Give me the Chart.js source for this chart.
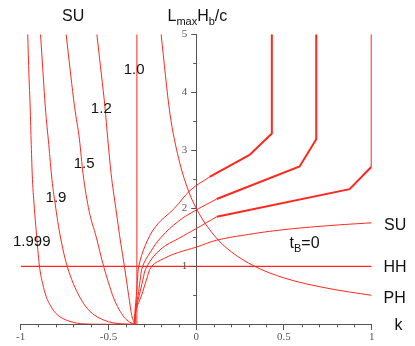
<!DOCTYPE html>
<html>
<head>
<meta charset="utf-8">
<script src="https://cdn.jsdelivr.net/npm/chart.js@4"></script>
<style>
html,body{margin:0;padding:0;background:#fff;}
canvas{display:block;}
</style>
</head>
<body>
<canvas id="c" width="415" height="346"></canvas>
<script>
// ---- data: [k, Lmax*Hb/c] ----
const xTicks = [-1, -0.5, 0, 0.5, 1];
const yTicks = [1, 2, 3, 4, 5];
const curveLabels = ['1.0', '1.2', '1.5', '1.9', '1.999'];

const lineHH = [[-1, 1], [1, 1]];
const line10 = [[-0.338, 0], [-0.338, 5]];
const curve12 = [[-0.566,5],[-0.54,4.3],[-0.52,3.75],[-0.504,3.2],[-0.485,2.6],[-0.458,2.0],[-0.43,1.4],[-0.409,1.0],[-0.385,0.5],[-0.367,0.15],[-0.35,0]];
const curve15 = [[-0.741,5],[-0.715,4.3],[-0.693,3.75],[-0.665,3.18],[-0.645,2.6],[-0.61,1.95],[-0.57,1.51],[-0.532,1.05],[-0.5,0.72],[-0.47,0.45],[-0.44,0.26],[-0.41,0.12],[-0.38,0.04],[-0.35,0]];
const curve19 = [[-0.887,5],[-0.872,4.3],[-0.86,3.75],[-0.84,3.1],[-0.822,2.5],[-0.8,2.0],[-0.785,1.7],[-0.76,1.3],[-0.735,1.0],[-0.7,0.7],[-0.66,0.45],[-0.62,0.27],[-0.58,0.16],[-0.54,0.09],[-0.5,0.045],[-0.45,0.015],[-0.4,0.003],[-0.35,0]];
const curve1999 = [[-0.96,5],[-0.953,4.3],[-0.946,3.75],[-0.94,3.1],[-0.933,2.5],[-0.922,2.0],[-0.912,1.62],[-0.893,1.0],[-0.875,0.7],[-0.855,0.48],[-0.83,0.32],[-0.8,0.19],[-0.76,0.1],[-0.72,0.05],[-0.68,0.02],[-0.64,0.007],[-0.55,0.001],[-0.35,0]];

const thin1 = [[-0.35,0],[-0.348,0.25],[-0.341,0.5],[-0.335,0.75],[-0.327,1.0],[-0.29,1.36],[-0.23,1.69],[-0.124,2.0],[-0.03,2.32],[0.076,2.54]];
const thin2 = [[-0.35,0],[-0.346,0.25],[-0.331,0.5],[-0.32,0.75],[-0.305,1.0],[-0.26,1.25],[-0.2,1.5],[-0.1,1.78],[0.0,1.97],[0.117,2.16]];
const thin3 = [[-0.35,0],[-0.344,0.25],[-0.324,0.5],[-0.305,0.75],[-0.281,1.0],[-0.2,1.3],[-0.1,1.48],[0.0,1.65],[0.117,1.855]];
const curveSU = [[-0.35,0],[-0.342,0.25],[-0.311,0.5],[-0.285,0.75],[-0.253,1.0],[-0.18,1.14],[-0.1,1.24],[0.0,1.33],[0.117,1.45],[0.3,1.55],[0.494,1.63],[0.75,1.7],[1.0,1.75]];

const polyA = [[0.076,2.54],[0.304,2.92],[0.431,3.29],[0.431,5]];
const polyB = [[0.117,2.16],[0.589,2.72],[0.684,3.19],[0.684,5]];
const polyC = [[0.117,1.855],[0.874,2.33],[1.0,2.72],[1.0,5]];

const curvePH = [[-0.2,5],[-0.15,3.64],[-0.1,2.86],[-0.05,2.35],[0,2.0],[0.1,1.54],[0.2,1.25],[0.333,1.0],[0.5,0.8],[0.75,0.62],[1,0.5]];

// ---- styling ----
const RED = 'rgb(255,40,30)';
const AXIS = '#555';
const TICKFONT = '11px "Liberation Serif", "DejaVu Serif", serif';
const toPts = a => a.map(p => ({x: p[0], y: p[1]}));

function ds(arr, width, mode) {
  return {
    data: toPts(arr), showLine: true, pointRadius: 0, borderColor: RED,
    backgroundColor: RED, borderWidth: width, fill: false,
    cubicInterpolationMode: mode === 'mono' ? 'monotone' : 'default',
    tension: mode === 'bez' ? 0.4 : 0,
    borderJoinStyle: 'miter'
  };
}

const datasets = [
  ds(lineHH, 1.2), ds(line10, 1),
  ds(curve12, 1, 'mono'), ds(curve15, 1, 'mono'), ds(curve19, 1, 'mono'), ds(curve1999, 1, 'mono'),
  ds(thin1, 1, 'bez'), ds(thin2, 1, 'bez'), ds(thin3, 1, 'bez'), ds(curveSU, 1, 'bez'),
  ds(polyA, 2), ds(polyB, 2), ds(polyC, 2),
  ds(curvePH, 1, 'mono')
];

const extras = {
  id: 'extras',
  afterDraw(chart) {
    const ctx = chart.ctx, xs = chart.scales.x, ys = chart.scales.y;
    const x0 = xs.getPixelForValue(0), y0 = ys.getPixelForValue(0);
    ctx.save();
    ctx.strokeStyle = AXIS; ctx.lineWidth = 1;
    ctx.beginPath();
    // minor x ticks
    for (let i = -10; i <= 10; i++) {
      if (i % 5 === 0) continue;
      const px = Math.round(xs.getPixelForValue(i / 10)) + 0.5;
      ctx.moveTo(px, y0); ctx.lineTo(px, y0 + 3);
    }
    // y ticks (minor + major)
    for (let j = 1; j <= 10; j++) {
      const py = Math.round(ys.getPixelForValue(j / 2)) + 0.5;
      const len = (j % 2 === 0) ? 5 : 3;
      ctx.moveTo(x0, py); ctx.lineTo(x0 - len, py);
    }
    ctx.stroke();
    // y tick labels
    ctx.fillStyle = AXIS; ctx.font = TICKFONT;
    ctx.textAlign = 'right'; ctx.textBaseline = 'middle';
    yTicks.forEach(v => ctx.fillText(String(v), x0 - 9, ys.getPixelForValue(v)));

    ctx.fillStyle = '#111';
    ctx.textBaseline = 'alphabetic';
    const big = '16px "Liberation Sans", Arial, sans-serif';
    const small = '11px "Liberation Sans", Arial, sans-serif';
    const mid = '15px "Liberation Sans", Arial, sans-serif';
    // top labels
    ctx.font = big; ctx.textAlign = 'left';
    ctx.fillText('SU', 62, 20.7);
    let tx = 167.5;
    const seq = [['L', big, 0], ['max', small, 4.3], ['H', big, 0], ['b', small, 4.3], ['/c', big, 0]];
    for (const [s, f, dy] of seq) {
      ctx.font = f; ctx.fillText(s, tx, 20.7 + dy); tx += ctx.measureText(s).width;
    }
    // curve labels
    ctx.font = mid; ctx.textAlign = 'center';
    const lp = [[134.2, 74], [101.3, 113.3], [84.2, 168.3], [56, 201.7], [31.7, 245.7]];
    curveLabels.forEach((t, i) => ctx.fillText(t, lp[i][0], lp[i][1]));
    // right labels
    ctx.font = big; ctx.textAlign = 'left';
    ctx.fillText('SU', 384, 230);
    ctx.fillText('HH', 383.5, 271.7);
    ctx.fillText('PH', 383.5, 302.7);
    ctx.fillText('k', 394.5, 330);
    // t_B=0
    tx = 289.5;
    const seq2 = [['t', big, 0], ['B', small, 3.5], ['=0', big, 0]];
    for (const [s, f, dy] of seq2) {
      ctx.font = f; ctx.fillText(s, tx, 248.3 + dy); tx += ctx.measureText(s).width;
    }
    ctx.restore();
  }
};

new Chart(document.getElementById('c'), {
  type: 'scatter',
  data: { datasets },
  options: {
    responsive: false, animation: false, devicePixelRatio: 1,
    layout: { padding: { left: 20.7, right: 43.3, top: 34.3, bottom: 21.7 } },
    plugins: { legend: { display: false }, tooltip: { enabled: false } },
    scales: {
      x: {
        type: 'linear', min: -1, max: 1, position: { y: 0 },
        afterBuildTicks: s => { s.ticks = xTicks.map(v => ({ value: v })); },
        ticks: { font: { family: '"Liberation Serif", "DejaVu Serif", serif', size: 11 }, color: AXIS, padding: 1,
                 maxRotation: 0, autoSkip: false, callback: v => String(v) },
        grid: { drawOnChartArea: false, drawTicks: true, tickLength: 5, color: AXIS },
        border: { display: true, color: AXIS, width: 1 }
      },
      y: {
        type: 'linear', min: 0, max: 5, position: { x: 0 },
        afterBuildTicks: s => { s.ticks = yTicks.map(v => ({ value: v })); },
        ticks: { display: false },
        grid: { drawOnChartArea: false, drawTicks: false, color: AXIS },
        border: { display: true, color: AXIS, width: 1 }
      }
    }
  },
  plugins: [extras]
});
</script>
</body>
</html>
